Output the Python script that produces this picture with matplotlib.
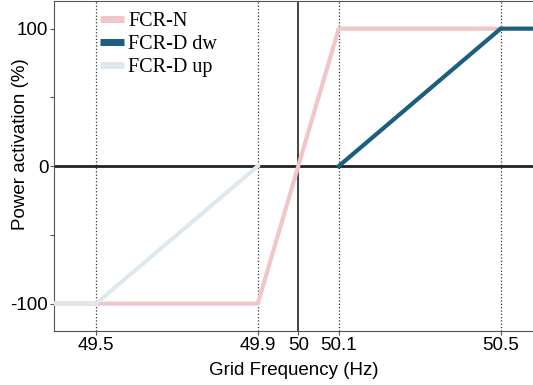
import matplotlib.pyplot as plt

# data
fcr_n_f = [49.4, 49.5, 49.9, 50.1, 50.5]
fcr_n_p = [-100, -100, -100, 100, 100]
fcr_dw_f = [50.1, 50.5, 50.6]
fcr_dw_p = [0, 100, 100]
fcr_up_f = [49.4, 49.5, 49.9]
fcr_up_p = [-100, -100, 0]
guide_f = [49.5, 49.9, 50.1, 50.5]
xticks = [49.5, 49.9, 50, 50.1, 50.5]
xtick_labels = ['49.5', '49.9', '50', '50.1', '50.5']
yticks = [-100, -50, 0, 50, 100]
ytick_labels = ['-100', '', '0', '', '100']

plt.rcParams['font.family'] = 'Liberation Sans'

fig = plt.figure(figsize=(5.33, 3.85), dpi=100)
ax = fig.add_axes([0.101, 0.14, 0.899, 0.857])

ax.plot(fcr_n_f, fcr_n_p, color='#f0c6c8', lw=3, label='FCR-N', zorder=3)
ax.plot(fcr_dw_f, fcr_dw_p, color='#1b5e7e', lw=3, label='FCR-D dw', zorder=4)
ax.plot(fcr_up_f, fcr_up_p, color='#dde9ee', lw=3, label='FCR-D up', zorder=4)

for f in guide_f:
    ax.axvline(f, color='#333333', lw=0.9, ls=':', zorder=1)
ax.axvline(50, color='#222222', lw=1.2, zorder=2)
ax.axhline(0, color='#222222', lw=2, zorder=2)

ax.set_xlim(49.396, 50.58)
ax.set_ylim(-120, 120)
ax.set_xticks(xticks)
ax.set_xticklabels(xtick_labels, fontsize=13.5)
ax.set_yticks(yticks)
ax.set_yticklabels(ytick_labels, fontsize=13.5)
ax.tick_params(colors='#555555', labelcolor='black', length=3, pad=1)

for s in ['left', 'bottom', 'top']:
    ax.spines[s].set_color('#555555')
ax.spines['right'].set_visible(False)

ax.set_xlabel('Grid Frequency (Hz)', fontsize=13.5)
ax.set_ylabel('Power activation (%)', fontsize=13.5)
ax.xaxis.set_label_coords(0.5, -0.095)
ax.yaxis.set_label_coords(-0.052, 0.567)

leg = ax.legend(loc='upper left', bbox_to_anchor=(0.096, 0.967), frameon=False,
                prop={'family': 'Liberation Serif', 'size': 14.5},
                handlelength=1.2, handletextpad=0.2, labelspacing=0.2,
                borderaxespad=0, borderpad=0)
for h in leg.get_lines():
    h.set_linewidth(5)
    h.set_solid_capstyle('butt')

fig.savefig('out.png', dpi=100)
